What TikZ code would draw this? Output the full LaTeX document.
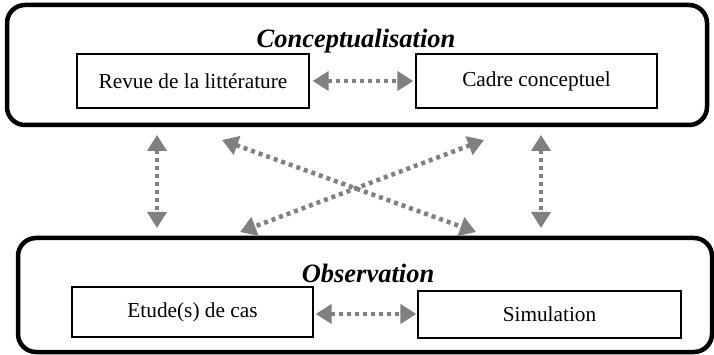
\documentclass[tikz,border=0pt]{standalone}
\usepackage{fontspec}
\setmainfont{Liberation Serif}
\usetikzlibrary{arrows.meta}

\definecolor{linkgray}{RGB}{128,128,128}

\tikzset{
    phase/.style={draw, line width=4.5pt, rounded corners=18pt},
    task/.style={draw, line width=1.3pt, font=\fontsize{21.3}{25}\selectfont},
    title/.style={anchor=base, font=\fontsize{26.5}{30}\selectfont\bfseries\itshape},
    link/.style={draw=linkgray, line width=4.5pt, dash pattern=on 4pt off 4pt,
        {Triangle[length=16pt,width=19pt,fill=linkgray]}-{Triangle[length=16pt,width=19pt,fill=linkgray]}}
}

\begin{document}
\begin{tikzpicture}[x=1pt,y=-1pt]
    \useasboundingbox (0,0) rectangle (714,355);

    % Draw the two phases
    \node[phase, minimum width=700pt, minimum height=120pt] (concept) at (357,65) {};
    \node[phase, minimum width=694pt, minimum height=114pt] (observ) at (365,295) {};
    \node[title] (concepttitle) at (356,48) {Conceptualisation};
    \node[title] (observtitle) at (368,282) {Observation};

    % Draw the tasks inside each phase
    \node[task, minimum width=232pt, minimum height=54pt] (revue) at (193,81) {Revue de la littérature};
    \node[task, minimum width=241pt, minimum height=54pt] (cadre) at (536.5,81) {Cadre conceptuel};
    \node[task, minimum width=241pt, minimum height=50pt] (etude) at (192.5,312) {Etude(s) de cas};
    \node[task, minimum width=263pt, minimum height=47pt] (simul) at (549.5,314.5) {Simulation};

    % Free ends of the links between the phases
    \coordinate (lefttop) at (157,135);
    \coordinate (leftbot) at (157,228);
    \coordinate (righttop) at (541,135);
    \coordinate (rightbot) at (541,228);
    \coordinate (diagatop) at (222,140);
    \coordinate (diagabot) at (476,232);
    \coordinate (diagbtop) at (484,140);
    \coordinate (diagbbot) at (240,232);

    % Draw the links
    \draw[link, shorten <=3pt, shorten >=2pt] (revue.east) -- (cadre.west);
    \draw[link, shorten <=2pt, shorten >=1pt] ([yshift=-2pt]etude.east) -- ([yshift=-2pt]etude.east -| simul.west);
    \draw[link] (lefttop) -- (leftbot);
    \draw[link] (righttop) -- (rightbot);
    \draw[link] (diagatop) -- (diagabot);
    \draw[link] (diagbtop) -- (diagbbot);
\end{tikzpicture}
\end{document}
